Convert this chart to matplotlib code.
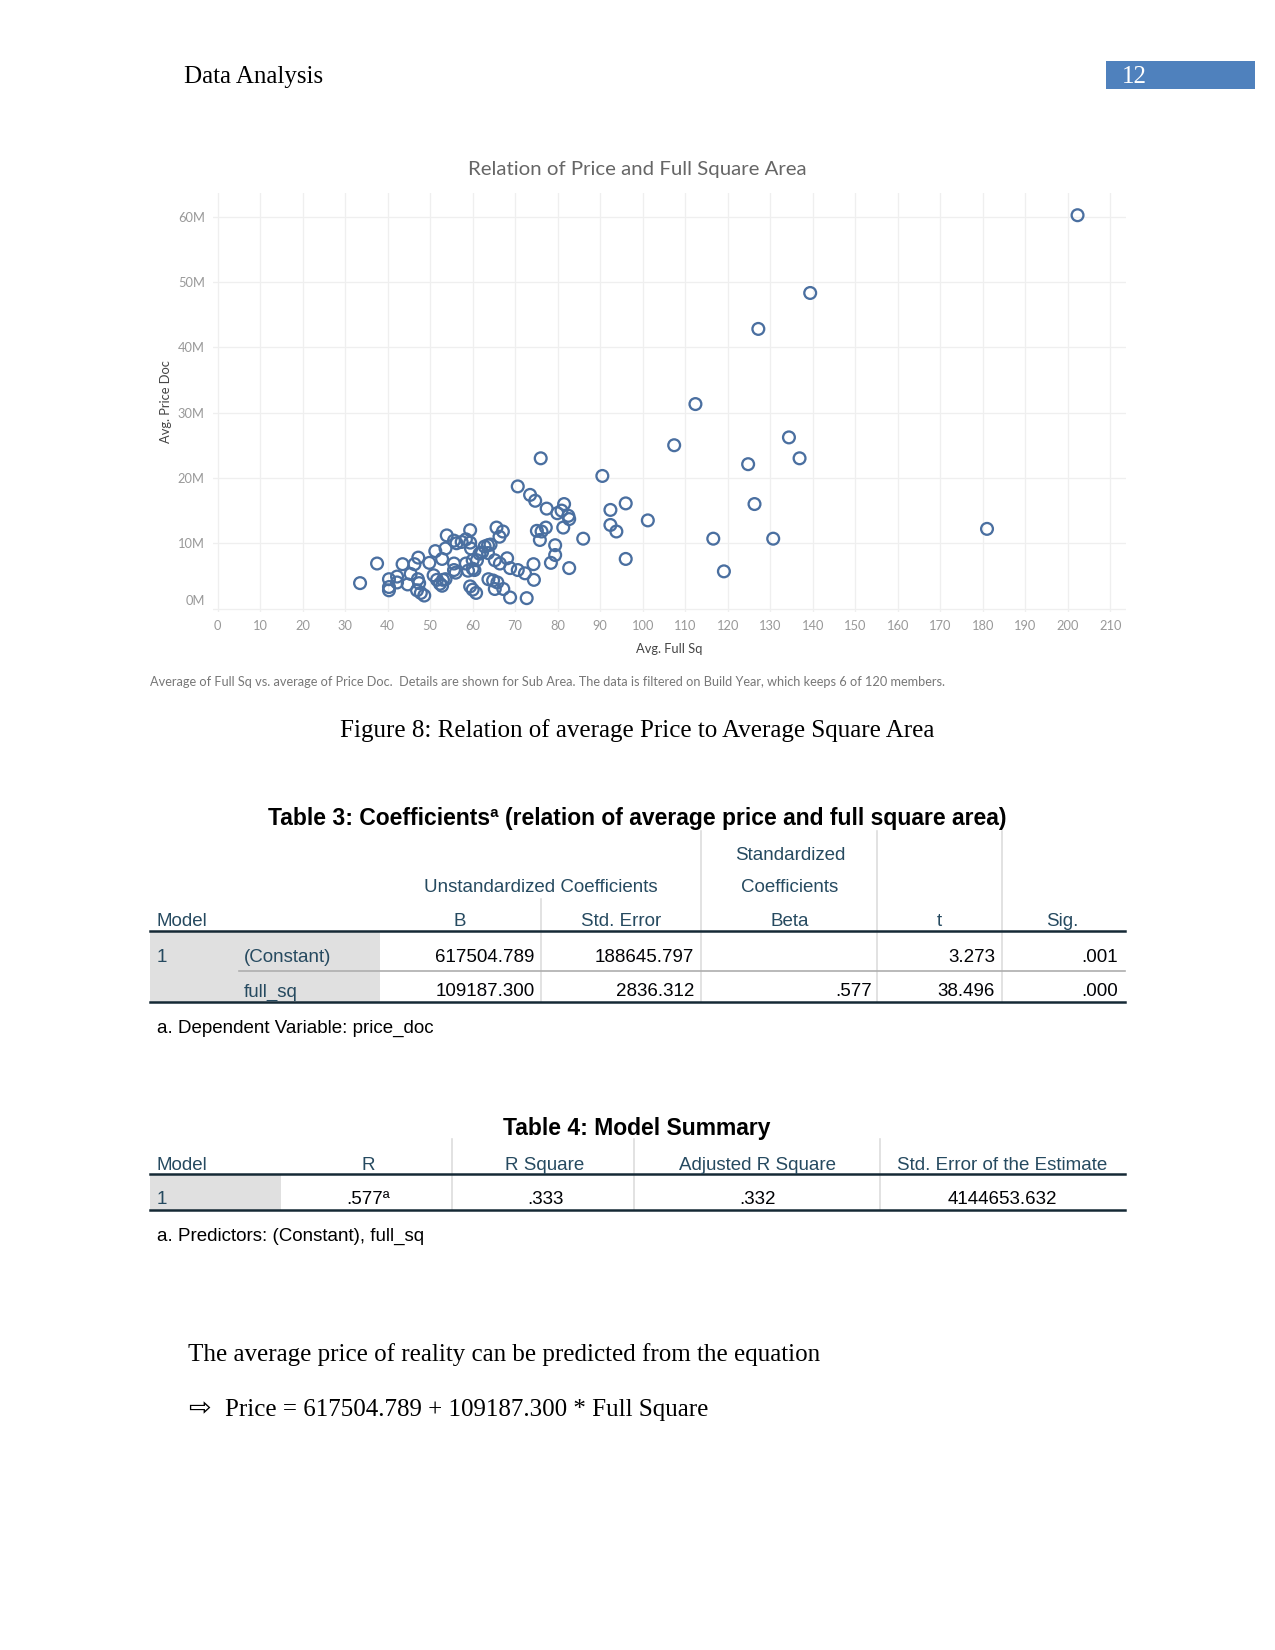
import matplotlib.pyplot as plt
from matplotlib.patches import Rectangle
from matplotlib.transforms import ScaledTranslation

# scatter data: Avg. Full Sq vs Avg. Price Doc (millions), one point per sub area
full_sq = [33.5, 37.5, 40.3, 40.3, 40.3, 42.2, 42.2, 43.5, 44.7, 45.4, 46.3, 47.2, 47.1, 47.4,
           46.9, 47.8, 48.6, 49.8, 51.2, 50.8, 51.6, 52.3, 53.0, 52.8, 52.8, 53.6, 53.6, 53.9,
           55.6, 55.6, 55.6, 56.0, 56.2, 57.4, 58.4, 58.4, 58.9, 59.4, 59.4, 59.4, 59.6, 60.0,
           60.0, 60.0, 60.4, 60.8, 61.0, 61.6, 62.2, 62.8, 63.6, 63.7, 64.2, 63.6, 65.2, 65.2,
           65.6, 66.3, 67.1, 64.8, 65.8, 66.4, 67.2, 68.1, 68.8, 68.8, 70.6, 70.6, 72.3, 72.7,
           73.5, 74.3, 74.7, 74.4, 75.1, 76.0, 75.8, 76.2, 77.2, 77.4, 78.4, 79.4, 79.4, 79.9,
           80.9, 81.5, 81.3, 82.5, 82.7, 82.7, 86.0, 90.5, 92.4, 92.4, 93.8, 96.0, 96.0, 101.2,
           107.4, 112.4, 116.6, 119.1, 124.8, 126.3, 127.2, 130.7, 134.4, 136.9, 139.4, 181.0,
           202.3]
price_m = [3.9, 6.9, 4.5, 3.3, 2.8, 4.9, 4.0, 6.8, 3.7, 5.3, 6.8, 7.8, 4.5, 3.9,
           2.8, 2.4, 2.0, 7.0, 8.8, 5.1, 4.4, 3.8, 4.4, 3.5, 7.6, 4.5, 9.2, 11.2,
           10.4, 6.9, 5.9, 5.5, 10.0, 10.2, 10.6, 6.9, 5.8, 3.4, 12.0, 10.1, 9.2, 7.4,
           6.1, 2.9, 5.9, 2.4, 7.4, 8.4, 8.6, 9.5, 9.7, 4.5, 9.8, 8.5, 7.4, 3.0,
           12.4, 11.0, 11.8, 4.3, 4.0, 6.9, 3.0, 7.7, 6.2, 1.7, 5.9, 18.7, 5.4, 1.6,
           17.4, 6.8, 16.5, 4.4, 11.9, 23.0, 10.5, 11.8, 12.4, 15.3, 7.0, 8.2, 9.7, 14.6,
           15.0, 16.0, 12.4, 14.2, 13.7, 6.2, 10.7, 20.3, 15.1, 12.8, 11.8, 16.1, 7.6, 13.5,
           25.0, 31.3, 10.7, 5.7, 22.1, 16.0, 42.8, 10.7, 26.2, 23.0, 48.3, 12.2,
           60.2]

x_ticks = list(range(0, 211, 10))
y_ticks = [0, 10, 20, 30, 40, 50, 60]
y_tick_labels = ["0M", "10M", "20M", "30M", "40M", "50M", "60M"]

# coefficient table
coef_cols = ["B", "Std. Error", "Beta", "t", "Sig."]
coef_rows = ["(Constant)", "full_sq"]
coef_vals = [["617504.789", "188645.797", "", "3.273", ".001"],
             ["109187.300", "2836.312", ".577", "38.496", ".000"]]

# model summary table
summ_cols = ["R", "R Square", "Adjusted R Square", "Std. Error of the Estimate"]
summ_vals = [".577\u00aa", ".333", ".332", "4144653.632"]

W, H = 1275, 1650
SERIF = "Liberation Serif"
SANS = "Liberation Sans"
TAB = "Lato"
SLATE = "#264a60"
DARK = "#152935"

fig = plt.figure(figsize=(8.5, 11), dpi=150)
page = fig.add_axes([0, 0, 1, 1])
page.set_xlim(0, W)
page.set_ylim(H, 0)
page.axis("off")

# header
page.text(184, 77, "Data Analysis", family=SERIF, fontsize=12, va="center")
page.add_patch(Rectangle((1106, 61), 149, 28, color="#4f81bd", lw=0))
page.text(1122, 77, "12", family=SERIF, fontsize=12, color="white", va="center")

# scatter chart
ax = fig.add_axes([213 / W, 1 - 612 / H, (1126 - 213) / W, (612 - 193) / H])
ax.scatter(full_sq, price_m, s=32, facecolors="none", edgecolors="#4a6fa0", linewidths=1.1, zorder=3)
ax.set_xlim(-1.1, 213.7)
ax.set_ylim(-0.52, 63.6)
ax.set_xticks(x_ticks)
ax.set_yticks(y_ticks)
ax.set_yticklabels(y_tick_labels)
ax.grid(True, color="#efefef", linewidth=0.6)
ax.set_axisbelow(True)
for s in ax.spines.values():
    s.set_visible(False)
ax.tick_params(length=0, labelsize=6.2, labelcolor="#999999", pad=4)
for lbl in ax.get_xticklabels() + ax.get_yticklabels():
    lbl.set_family(TAB)
zero_lbl = ax.yaxis.get_major_ticks()[0].label1
zero_lbl.set_transform(zero_lbl.get_transform() + ScaledTranslation(0, 9 / 150, fig.dpi_scale_trans))

page.text(637, 170, "Relation of Price and Full Square Area", family=TAB, fontsize=9.8,
          color="#666666", ha="center", va="center")
page.text(669, 649, "Avg. Full Sq", family=TAB, fontsize=6.2, color="#444444", ha="center", va="center")
page.text(166, 402, "Avg. Price Doc", family=TAB, fontsize=6.2, color="#444444", ha="center",
          va="center", rotation=90)
page.text(150, 682, "Average of Full Sq vs. average of Price Doc.  Details are shown for Sub Area. "
          "The data is filtered on Build Year, which keeps 6 of 120 members.",
          family=TAB, fontsize=6.1, color="#777777", va="center")

page.text(637, 731, "Figure 8: Relation of average Price to Average Square Area", family=SERIF,
          fontsize=12, ha="center", va="center")

# Table 3
L, R = 150.4, 1124.6
page.text(637, 818, "Table 3: Coefficients\u00aa (relation of average price and full square area)",
          family=SANS, fontsize=11, weight="bold", ha="center", va="center")
page.add_patch(Rectangle((L, 931), 379.8 - L, 1001.5 - 931, color="#e0e0e0", lw=0))
for vx, top in [(540.7, 899), (700.6, 831), (877.4, 831), (1001.5, 831)]:
    page.plot([vx, vx], [top, 1001.5], color="#dddddd", lw=0.8)
page.plot([238.8, R], [971, 971], color="#aeaeae", lw=0.8)
page.plot([L, R], [931, 931], color=DARK, lw=1.2)
page.plot([L, R], [1001.5, 1001.5], color=DARK, lw=1.2)

page.text(790, 855, "Standardized", family=SANS, fontsize=9, color=SLATE, ha="center", va="center")
page.text(790, 888, "Coefficients", family=SANS, fontsize=9, color=SLATE, ha="center", va="center")
page.text(540.7, 888, "Unstandardized Coefficients", family=SANS, fontsize=9, color=SLATE,
          ha="center", va="center")
page.text(156.7, 921, "Model", family=SANS, fontsize=9, color=SLATE, va="center")
col_centers = [459.7, 620.7, 790, 939.4, 1062.5]
col_rights = [534.4, 694.3, 872.1, 995.2, 1118.3]
for cx, name in zip(col_centers, coef_cols):
    page.text(cx, 921, name, family=SANS, fontsize=9, color=SLATE, ha="center", va="center")
page.text(156.7, 957, "1", family=SANS, fontsize=9, color=SLATE, va="center")
for ry, rname, vals in zip([957, 992], coef_rows, coef_vals):
    page.text(244, ry, rname, family=SANS, fontsize=9, color=SLATE, va="center")
    for rx, v in zip(col_rights, vals):
        page.text(rx, ry, v, family=SANS, fontsize=9, color="#010205", ha="right", va="center")
page.text(156.7, 1028, "a. Dependent Variable: price_doc", family=SANS, fontsize=9, va="center")

# Table 4
page.text(637, 1128, "Table 4: Model Summary", family=SANS, fontsize=11, weight="bold",
          ha="center", va="center")
page.add_patch(Rectangle((L, 1174), 280.9 - L, 1209.8 - 1174, color="#e0e0e0", lw=0))
for vx in [452.4, 634.4, 879.5]:
    page.plot([vx, vx], [1139, 1209.8], color="#dddddd", lw=0.8)
page.plot([L, R], [1174, 1174], color=DARK, lw=1.2)
page.plot([L, R], [1209.8, 1209.8], color=DARK, lw=1.2)
page.text(156.7, 1165.5, "Model", family=SANS, fontsize=9, color=SLATE, va="center")
summ_centers = [368.2, 545, 757.4, 1002.6]
for cx, name, v in zip(summ_centers, summ_cols, summ_vals):
    page.text(cx, 1165.5, name, family=SANS, fontsize=9, color=SLATE, ha="center", va="center")
    page.text(cx, 1200, v, family=SANS, fontsize=9, color="#010205", ha="center", va="center")
page.text(156.7, 1200, "1", family=SANS, fontsize=9, color=SLATE, va="center")
page.text(156.7, 1236, "a. Predictors: (Constant), full_sq", family=SANS, fontsize=9, va="center")

# body text
page.text(188, 1355, "The average price of reality can be predicted from the equation",
          family=SERIF, fontsize=12, va="center")
page.text(188, 1409, "\u21e8", family="DejaVu Sans", fontsize=13, va="center")
page.text(225, 1410, "Price = 617504.789 + 109187.300 * Full Square", family=SERIF,
          fontsize=12, va="center")

fig.savefig("out.png", dpi=150)
